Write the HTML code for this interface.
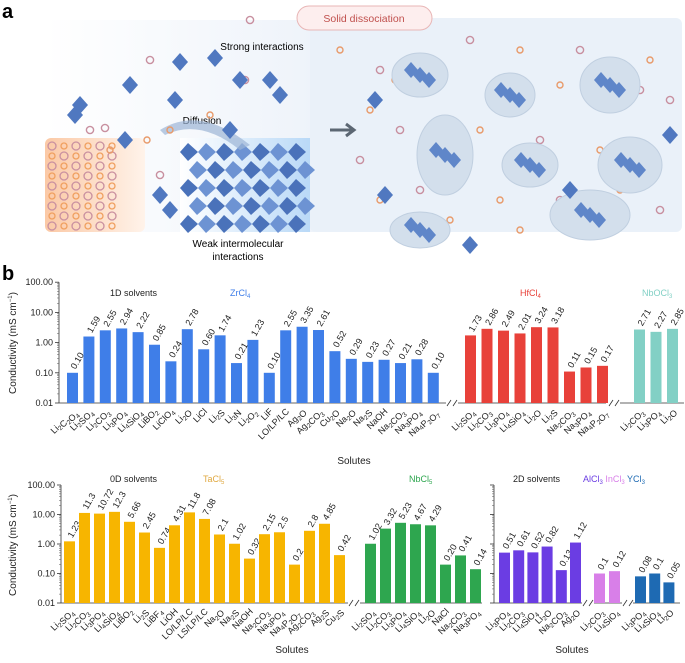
<!DOCTYPE html>
<html><head><meta charset="utf-8"><style>
body{margin:0;background:#fff;width:685px;height:658px;overflow:hidden;font-family:"Liberation Sans",sans-serif}
svg text{font-family:"Liberation Sans",sans-serif}
</style></head><body>
<svg id="fig" width="685" height="658" viewBox="0 0 685 658" xmlns="http://www.w3.org/2000/svg">
<defs>
<linearGradient id="bgL" x1="0" x2="1"><stop offset="0" stop-color="#fff"/><stop offset="1" stop-color="#eef3fa"/></linearGradient>
<linearGradient id="org" x1="0" x2="1"><stop offset="0" stop-color="#fbc9a6"/><stop offset="1" stop-color="#fff3ea"/></linearGradient>
<linearGradient id="lat" x1="0" x2="1"><stop offset="0" stop-color="#fff"/><stop offset="1" stop-color="#b9d9f7"/></linearGradient>
</defs>
<g>
<text x="2" y="18" font-size="20" font-weight="bold">a</text>
<rect x="45" y="20" width="270" height="212" fill="url(#bgL)"/>
<rect x="310" y="18" width="372" height="214" rx="6" fill="#eaf1f9"/>
<rect x="45" y="138" width="100" height="94" rx="6" fill="url(#org)"/>
<rect x="180" y="138" width="130" height="94" fill="url(#lat)"/>
<g id="lattice" fill="#5f86c9"></g>
<rect x="297" y="6" width="135" height="24" rx="12" fill="#fdeeee" stroke="#e8b6b6"/>
<text x="364" y="22" font-size="10.5" fill="#c0504d" text-anchor="middle">Solid dissociation</text>
<text x="262" y="50" font-size="10" text-anchor="middle">Strong interactions</text>
<text x="202" y="124" font-size="10" text-anchor="middle">Diffusion</text>
<text x="238" y="247" font-size="10" text-anchor="middle">Weak intermolecular</text>
<text x="238" y="260" font-size="10" text-anchor="middle">interactions</text>
<path d="M330 130 L352 130 M346 124 L354 130 L346 136" stroke="#5c6773" stroke-width="3" fill="none"/>
<path d="M160 130 Q200 105 250 145 L240 150 Q200 118 165 135Z" fill="#9db5d6" opacity="0.7"/>
<g id="deco"></g>
</g>
<text x="2" y="280" font-size="20" font-weight="bold">b</text>
<g id="charts"></g>
</svg>
<script>
// ---- data ----
const zrLabels=["Li2C2O4","Li2SO4","Li2CO3","Li3PO4","Li4SiO4","LiBO2","LiClO4","Li2O","LiCl","Li2S","Li3N","Li2O2","LiF","LO/LP/LC","Ag2O","Ag2CO3","Cu2O","Na2O","Na2S","NaOH","Na2CO3","Na3PO4","Na4P2O7"];
const zrValues=[0.10,1.59,2.55,2.94,2.22,0.85,0.24,2.78,0.60,1.74,0.21,1.23,0.10,2.55,3.35,2.61,0.52,0.29,0.23,0.27,0.21,0.28,0.10];
const zrText=["0.10","1.59","2.55","2.94","2.22","0.85","0.24","2.78","0.60","1.74","0.21","1.23","0.10","2.55","3.35","2.61","0.52","0.29","0.23","0.27","0.21","0.28","0.10"];
const hfLabels=["Li2SO4","Li2CO3","Li3PO4","Li4SiO4","Li2O","Li2S","Na2CO3","Na3PO4","Na4P2O7"];
const hfValues=[1.73,2.86,2.49,2.01,3.24,3.18,0.11,0.15,0.17];
const hfText=["1.73","2.86","2.49","2.01","3.24","3.18","0.11","0.15","0.17"];
const nboLabels=["Li2CO3","Li3PO4","Li2O"];
const nboValues=[2.71,2.27,2.85];
const nboText=["2.71","2.27","2.85"];
const taLabels=["Li2SO4","Li2CO3","Li3PO4","Li4SiO4","LiBO2","Li2S","LiBF4","LiOH","LO/LP/LC","LS/LP/LC","Na2O","Na2S","NaOH","Na2CO3","Na3PO4","Na4P2O7","Ag2CO3","Ag2S","Cu2S"];
const taValues=[1.23,11.3,10.72,12.3,5.66,2.45,0.74,4.31,11.8,7.08,2.1,1.02,0.32,2.15,2.5,0.2,2.8,4.85,0.42];
const taText=["1.23","11.3","10.72","12.3","5.66","2.45","0.74","4.31","11.8","7.08","2.1","1.02","0.32","2.15","2.5","0.2","2.8","4.85","0.42"];
const nbLabels=["Li2SO4","Li2CO3","Li3PO4","Li4SiO4","Li2O","NaCl","Na2CO3","Na3PO4"];
const nbValues=[1.02,3.32,5.23,4.67,4.29,0.20,0.41,0.14];
const nbText=["1.02","3.32","5.23","4.67","4.29","0.20","0.41","0.14"];
const alLabels=["Li3PO4","Li2CO3","Li4SiO4","Li2O","Na2CO3","Ag2O"];
const alValues=[0.51,0.61,0.52,0.82,0.13,1.12];
const alText=["0.51","0.61","0.52","0.82","0.13","1.12"];
const inLabels=["Li2CO3","Li4SiO4"];
const inValues=[0.1,0.12];
const inText=["0.1","0.12"];
const yLabels=["Li3PO4","Li4SiO4","Li2O"];
const yValues=[0.08,0.1,0.05];
const yText=["0.08","0.1","0.05"];
const tickValues=[0.01,0.1,1,10,100];
const tickText=["0.01","0.10","1.00","10.00","100.00"];

const NS="http://www.w3.org/2000/svg";
function mk(tag,attrs,parent){const e=document.createElementNS(NS,tag);for(const k in attrs)e.setAttribute(k,attrs[k]);parent.appendChild(e);return e;}
function chem(t,s){let h="";for(const c of s){if(/[0-9]/.test(c)&&s!=="LO/LP/LC")h+='<tspan font-size="6.5" dy="2">'+c+'</tspan><tspan dy="-2"></tspan>';else h+=c;}t.innerHTML=h;}
const charts=document.getElementById('charts');
function yScale(base,dec){return v=>base-(Math.log10(v)+2)*dec;}
function axis(x,base,dec,ticks){
  const g=mk('g',{},charts);
  const top=base-4*dec;
  mk('line',{x1:x,y1:top,x2:x,y2:base,stroke:'#333','stroke-width':0.8},g);
  const y=yScale(base,dec);
  for(let d=0;d<4;d++)for(let m=2;m<10;m++){const v=Math.pow(10,d-2)*m;mk('line',{x1:x-2,x2:x,y1:y(v),y2:y(v),stroke:'#555','stroke-width':0.5},g);}
  tickValues.forEach((v,i)=>{mk('line',{x1:x-4,x2:x,y1:y(v),y2:y(v),stroke:'#333','stroke-width':0.8},g);
    if(ticks){const t=mk('text',{x:x-6,y:y(v)+3,'font-size':9,'text-anchor':'end',fill:'#222'},g);t.textContent=tickText[i];}});
}
function baseline(x1,x2,base){const l=mk('line',{x1:x1,x2:x2,y1:base,y2:base,stroke:'#333','stroke-width':0.8},charts);}
function brk(x,base){const g=mk('g',{},charts);
  mk('line',{x1:x-5,y1:base+3,x2:x-1,y2:base-3,stroke:'#333','stroke-width':0.8},g);mk('line',{x1:x+1,y1:base+3,x2:x+5,y2:base-3,stroke:'#333','stroke-width':0.8},g);}
function series(name,labels,values,texts,x0,pitch,base,dec,color){
  const y=yScale(base,dec);const g=mk('g',{},charts);
  values.forEach((v,i)=>{const x=x0+i*pitch;const yt=y(v);
    const r=mk('rect',{x:x,y:yt,width:11,height:base-yt,fill:color},g);
    
    
    const cx=x+5.5;
    const t=mk('text',{x:cx+3,y:yt-3,'font-size':9,fill:'#222',transform:`rotate(-60 ${cx+3} ${yt-3})`},g);
    t.textContent=texts[i];
    
    
    const lx=cx+4,ly=base+9;
    const lt=mk('text',{x:lx,y:ly,'font-size':9,fill:'#222','text-anchor':'end',transform:`rotate(-45 ${lx} ${ly})`},g);
    chem(lt,labels[i]);
    
    
  });
}
function txt(x,y,s,size,color,name,anchor,rot){const t=mk('text',{x:x,y:y,'font-size':size,fill:color,'text-anchor':anchor||'start'},charts);if(rot)t.setAttribute('transform',`rotate(${rot} ${x} ${y})`);t.innerHTML=s;return t;}

// top chart
const B1=403,D1=30.2;
axis(59,B1,D1,true);
baseline(59,446,B1);brk(452,B1);baseline(458,606,B1);brk(614,B1);baseline(620,684,B1);
series('zrcl4',zrLabels,zrValues,zrText,67,16.4,B1,D1,'#3f7ee8');
series('hfcl4',hfLabels,hfValues,hfText,465,16.5,B1,D1,'#e8413a');
series('nbocl3',nboLabels,nboValues,nboText,634,16.5,B1,D1,'#82d0c5');
txt(110,296,'1D solvents',9,'#222','solvent-type-1d');
txt(230,296,'ZrCl<tspan font-size="6" dy="2">4</tspan>',9,'#3f7ee8','zrcl4-label');
txt(520,296,'HfCl<tspan font-size="6" dy="2">4</tspan>',9,'#e8413a','hfcl4-label');
txt(642,296,'NbOCl<tspan font-size="6" dy="2">3</tspan>',9,'#82d0c5','nbocl3-label');
txt(354,464,'Solutes',10,'#222','x-axis-title-top','middle');
txt(16,343,'Conductivity (mS cm<tspan font-size="6" dy="-4">−1</tspan><tspan dy="4">)</tspan>',10,'#222','y-axis-title-top','middle',-90);

// bottom chart
const B2=603,D2=29.5;
axis(61,B2,D2,true);
baseline(61,348,B2);brk(354,B2);baseline(360,482,B2);
series('tacl5',taLabels,taValues,taText,64,15,B2,D2,'#f7b500');
series('nbcl5',nbLabels,nbValues,nbText,365,15,B2,D2,'#2ea64f');
axis(494,B2,D2,false);
baseline(494,582,B2);brk(588,B2);baseline(594,622,B2);brk(628,B2);baseline(633,680,B2);
series('alcl3',alLabels,alValues,alText,499,14.2,B2,D2,'#6b3de3');
series('incl3',inLabels,inValues,inText,594,15,B2,D2,'#d87fe8');
series('ycl3',yLabels,yValues,yText,635,14.2,B2,D2,'#1e6ab3');
txt(110,482,'0D solvents',9,'#222','solvent-type-0d');
txt(203,482,'TaCl<tspan font-size="6" dy="2">5</tspan>',9,'#e0a840','tacl5-label');
txt(409,482,'NbCl<tspan font-size="6" dy="2">5</tspan>',9,'#2ea64f','nbcl5-label');
txt(513,482,'2D solvents',9,'#222','solvent-type-2d');
txt(583,482,'<tspan fill="#6b3de3">AlCl<tspan font-size="6" dy="2">3</tspan></tspan><tspan dy="-2" fill="#d87fe8"> InCl<tspan font-size="6" dy="2">3</tspan></tspan><tspan dy="-2" fill="#1e6ab3"> YCl<tspan font-size="6" dy="2">3</tspan></tspan>',9,'#222','metal-chloride-labels');
txt(292,653,'Solutes',10,'#222','x-axis-title-bottom-left','middle');
txt(572,653,'Solutes',10,'#222','x-axis-title-bottom-right','middle');
txt(16,545,'Conductivity (mS cm<tspan font-size="6" dy="-4">−1</tspan><tspan dy="4">)</tspan>',10,'#222','y-axis-title-bottom','middle',-90);

// decoration for panel a
const lat=document.getElementById('lattice');
for(let r=0;r<5;r++)for(let c=0;c<7;c++){const x=188+c*18+(r%2)*9,y=143+r*18;
  const p=mk('polygon',{points:`${x},${y} ${x+10},${y+9} ${x},${y+18} ${x-8},${y+9}`,fill:(c+r)%2?'#6d93d3':'#4a72ba'},lat);}
const deco=document.getElementById('deco');
for(let r=0;r<9;r++)for(let c=0;c<6;c++){const cc=mk('circle',{cx:52+c*12,cy:146+r*10,r:(c+r)%2?3:4,fill:'none',stroke:(c+r)%2?'#f0a060':'#c990a0','stroke-width':1.3},deco);}
const ions=[[90,130],[110,150],[150,60],[170,130],[250,20],[340,50],[380,70],[420,60],[470,40],[520,50],[580,50],[650,60],[670,100],[370,110],[400,130],[480,130],[540,140],[600,150],[640,170],[380,200],[420,190],[500,200],[560,200],[620,190],[660,210],[450,220],[360,160],[520,230],[105,128],[147,140],[160,175],[210,115],[245,80],[395,80],[430,85],[560,85],[640,90],[460,175],[655,170],[400,230]];
ions.forEach((p,i)=>{const cc=mk('circle',{cx:p[0],cy:p[1],r:i%2?3:3.6,fill:'none',stroke:i%2?'#e89a6a':'#c88f9f','stroke-width':1.4},deco);});
const blobs=[[420,75,28,22],[510,95,25,22],[610,85,30,28],[445,155,28,40],[530,165,28,22],[630,165,32,28],[590,215,40,25],[420,230,30,18]];
blobs.forEach(b=>{const e=mk('ellipse',{cx:b[0],cy:b[1],rx:b[2],ry:b[3],fill:'#d3dfec',stroke:'#c0cfe0'},deco);
  for(let k=-1;k<=1;k++){const xx=b[0]+k*9,yy=b[1]+(k%2)*5;
  const q=mk('polygon',{points:`${xx-7},${yy} ${xx},${yy-8} ${xx+7},${yy} ${xx},${yy+8}`,fill:'#5f86c9'},deco);}});
const mols=[[75,115],[80,105],[125,140],[175,100],[230,130],[240,80],[270,80],[130,85],[180,62],[170,210],[160,195],[280,95],[215,58],[375,100],[385,195],[570,190],[670,135],[470,245]];
mols.forEach(m=>{const q=mk('polygon',{points:`${m[0]-8},${m[1]} ${m[0]},${m[1]-9} ${m[0]+8},${m[1]} ${m[0]},${m[1]+9}`,fill:'#5078c0'},deco);});
</script>
</body></html>
